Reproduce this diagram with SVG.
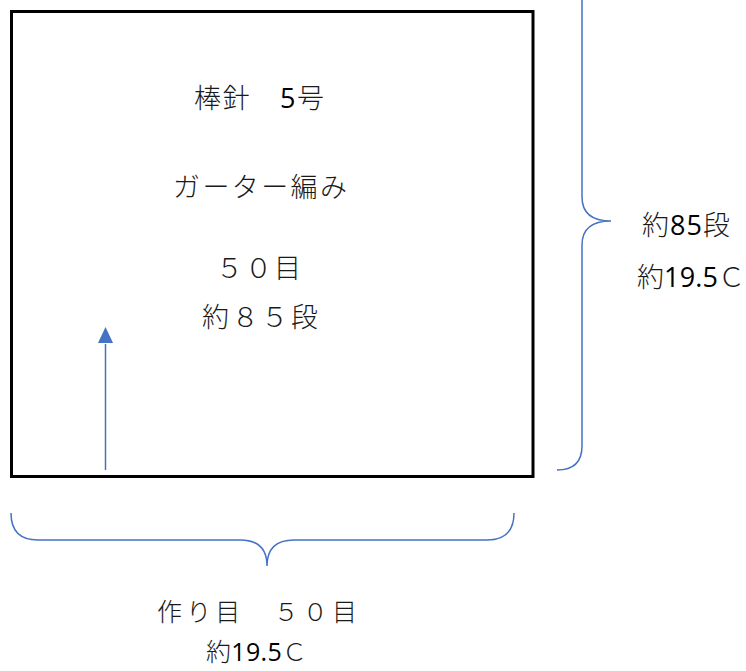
<svg xmlns="http://www.w3.org/2000/svg" width="746" height="671" viewBox="0 0 746 671">
  <defs>
    <style>
      .t { font-family: "Noto Sans CJK JP", "Noto Sans", sans-serif; font-size: 27px; font-weight: 300; fill: #1a1a1a; }
      .s { font-size: 25px; }
      .d { font-family: "Open Sans", "Noto Sans", sans-serif; font-weight: 400; fill: #000000; }
      .brace { fill: none; stroke: #4472C4; stroke-width: 1.5; }
    </style>
  </defs>
  <rect width="746" height="671" fill="#ffffff"/>

  <g id="box">
    <rect x="11.5" y="11.5" width="521.5" height="465" fill="#ffffff" stroke="#000000" stroke-width="3"/>
    <text class="t" x="194" y="108" textLength="130" lengthAdjust="spacing">棒針　<tspan class="d">5</tspan>号</text>
    <text class="t" x="173" y="197" textLength="174" lengthAdjust="spacing">ガーター編み</text>
    <text class="t" x="216" y="278" textLength="85" lengthAdjust="spacing">５０目</text>
    <text class="t" x="202" y="327" textLength="116" lengthAdjust="spacing">約８５段</text>
  </g>

  <g id="right-label">
    <text class="t" x="642" y="235" textLength="88" lengthAdjust="spacing">約<tspan class="d">85</tspan>段</text>
    <text class="t" x="637" y="287" textLength="108" lengthAdjust="spacing">約<tspan class="d">19.5</tspan>Ｃ</text>
  </g>

  <g id="bottom-label">
    <text class="t s" x="157" y="621" textLength="200" lengthAdjust="spacing">作り目　５０目</text>
    <text class="t s" x="206" y="661" textLength="101" lengthAdjust="spacing">約<tspan class="d">19.5</tspan>Ｃ</text>
  </g>

  <g id="connectors">
    <path class="brace" d="M557,-28 Q582,-28 582,-4 L582,197 Q582,221 611,221 Q582,221 582,245 L582,446 Q582,470 557,470"/>
    <path class="brace" d="M11,513 Q11,540 38,540 L240,540 Q267,540 267,566 Q267,540 294,540 L487,540 Q514,540 514,513"/>
    <line x1="105.5" y1="470" x2="105.5" y2="344" stroke="#4472C4" stroke-width="1.5"/>
    <path d="M105.5,327 L113,343 L98,343 z" fill="#4472C4"/>
  </g>
</svg>
